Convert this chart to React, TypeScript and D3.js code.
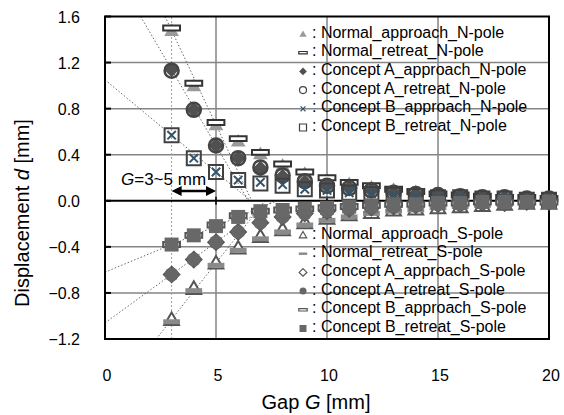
import { useEffect, useRef } from 'react'
import * as d3 from 'd3'

// gap G [mm]
const gap = [3, 4, 5, 6, 7, 8, 9, 10, 11, 12, 13, 14, 15, 16, 17, 18, 19, 20]

// N-pole (positive displacement)
const normalApproachN = [1.48, 1.0, 0.66, 0.52, 0.41, 0.31, 0.24, 0.19, 0.15, 0.12, 0.1, 0.08, 0.06, 0.05, 0.04, 0.03, 0.03, 0.02]
const normalRetreatN = [1.5, 1.02, 0.68, 0.54, 0.42, 0.32, 0.25, 0.2, 0.16, 0.13, 0.1, 0.08, 0.06, 0.05, 0.04, 0.03, 0.03, 0.02]
const conceptAApproachN = [1.14, 0.79, 0.48, 0.37, 0.28, 0.21, 0.16, 0.13, 0.11, 0.09, 0.07, 0.06, 0.05, 0.04, 0.03, 0.03, 0.02, 0.02]
const conceptARetreatN = [1.13, 0.79, 0.48, 0.37, 0.29, 0.22, 0.17, 0.13, 0.11, 0.09, 0.07, 0.06, 0.05, 0.04, 0.03, 0.03, 0.02, 0.02]
const conceptBApproachN = [0.57, 0.37, 0.25, 0.18, 0.16, 0.14, 0.1, 0.09, 0.07, 0.06, 0.05, 0.04, 0.03, 0.03, 0.02, 0.02, 0.01, 0.01]
const conceptBRetreatN = [0.57, 0.37, 0.25, 0.18, 0.15, 0.13, 0.1, 0.09, 0.07, 0.06, 0.05, 0.04, 0.03, 0.03, 0.02, 0.02, 0.01, 0.01]

// S-pole (negative displacement)
const normalApproachS = [-1.03, -0.76, -0.54, -0.41, -0.31, -0.25, -0.19, -0.15, -0.12, -0.1, -0.08, -0.07, -0.06, -0.05, -0.04, -0.03, -0.02, -0.02]
const normalRetreatS = [-1.05, -0.78, -0.56, -0.43, -0.33, -0.27, -0.21, -0.17, -0.14, -0.11, -0.09, -0.08, -0.06, -0.05, -0.04, -0.03, -0.02, -0.02]
const conceptAApproachS = [-0.64, -0.51, -0.36, -0.27, -0.19, -0.14, -0.11, -0.09, -0.07, -0.06, -0.05, -0.04, -0.03, -0.03, -0.02, -0.02, -0.01, -0.01]
const conceptARetreatS = [-0.64, -0.51, -0.36, -0.27, -0.19, -0.14, -0.11, -0.09, -0.07, -0.06, -0.05, -0.04, -0.03, -0.03, -0.02, -0.02, -0.01, -0.01]
const conceptBApproachS = [-0.38, -0.3, -0.21, -0.13, -0.09, -0.08, -0.07, -0.06, -0.05, -0.04, -0.03, -0.03, -0.02, -0.02, -0.01, -0.01, -0.01, -0.01]
const conceptBRetreatS = [-0.38, -0.3, -0.22, -0.14, -0.09, -0.08, -0.07, -0.06, -0.05, -0.04, -0.03, -0.03, -0.02, -0.02, -0.01, -0.01, -0.01, -0.01]

const xTicks = [0, 5, 10, 15, 20]
const yTicks = [-1.2, -0.8, -0.4, 0, 0.4, 0.8, 1.2, 1.6]

const seriesN = [
  { name: 'Normal_approach_N-pole', values: normalApproachN, kind: 'tri', fill: '#9a9a9a', stroke: 'none' },
  { name: 'Normal_retreat_N-pole', values: normalRetreatN, kind: 'bar', fill: '#fff', stroke: '#333' },
  { name: 'Concept A_approach_N-pole', values: conceptAApproachN, kind: 'diamond', fill: '#505050', stroke: 'none' },
  { name: 'Concept A_retreat_N-pole', values: conceptARetreatN, kind: 'circle', fill: 'none', stroke: '#444' },
  { name: 'Concept B_approach_N-pole', values: conceptBApproachN, kind: 'x', fill: 'none', stroke: '#34546a' },
  { name: 'Concept B_retreat_N-pole', values: conceptBRetreatN, kind: 'square', fill: 'none', stroke: '#404040' },
]
const seriesS = [
  { name: 'Normal_approach_S-pole', values: normalApproachS, kind: 'tri', fill: '#fff', stroke: '#555' },
  { name: 'Normal_retreat_S-pole', values: normalRetreatS, kind: 'bar', fill: '#8a8a8a', stroke: 'none' },
  { name: 'Concept A_approach_S-pole', values: conceptAApproachS, kind: 'diamond', fill: 'none', stroke: '#555' },
  { name: 'Concept A_retreat_S-pole', values: conceptARetreatS, kind: 'circle', fill: '#666', stroke: 'none' },
  { name: 'Concept B_approach_S-pole', values: conceptBApproachS, kind: 'bar', fill: '#fff', stroke: '#555' },
  { name: 'Concept B_retreat_S-pole', values: conceptBRetreatS, kind: 'square', fill: '#686868', stroke: 'none' },
]

// series used for the dotted tangent lines (through G=3 and G=5)
const trendSeries = [normalApproachN, conceptAApproachN, conceptBRetreatN, normalApproachS, conceptAApproachS, conceptBRetreatS]

function markerPath(kind, s) {
  const h = s / 2
  switch (kind) {
    case 'tri':
      return `M0,${-h}L${h * 1.05},${h * 0.8}L${-h * 1.05},${h * 0.8}Z`
    case 'diamond':
      return `M0,${-h * 1.1}L${h * 1.1},0L0,${h * 1.1}L${-h * 1.1},0Z`
    case 'circle':
      return `M${h},0A${h},${h} 0 1,1 ${-h},0A${h},${h} 0 1,1 ${h},0Z`
    case 'square':
      return `M${-h},${-h}H${h}V${h}H${-h}Z`
    case 'bar':
      return `M${-h * 1.2},${-h * 0.35}H${h * 1.2}V${h * 0.35}H${-h * 1.2}Z`
    case 'x':
      return `M${-h * 0.7},${-h * 0.7}L${h * 0.7},${h * 0.7}M${h * 0.7},${-h * 0.7}L${-h * 0.7},${h * 0.7}`
    default:
      return ''
  }
}

const FONT = 'Arial, "Liberation Sans", sans-serif'

export default function App() {
  const ref = useRef(null)

  useEffect(() => {
    const svg = d3.select(ref.current)
    svg.selectAll('*').remove()

    const x = d3.scaleLinear().domain([0, 20]).range([105, 549])
    const y = d3.scaleLinear().domain([-1.2, 1.6]).range([339, 16.5])

    // grid
    const grid = svg.append('g')
    grid
      .selectAll('line.h')
      .data(yTicks.filter((v) => v !== 0 && v !== -1.2 && v !== 1.6))
      .enter()
      .append('line')
      .attr('x1', x(0))
      .attr('x2', x(20))
      .attr('y1', (d) => y(d))
      .attr('y2', (d) => y(d))
      .attr('stroke', '#858585')
      .attr('stroke-width', 1.5)
    grid
      .selectAll('line.v')
      .data(xTicks.filter((v) => v > 0 && v < 20))
      .enter()
      .append('line')
      .attr('x1', (d) => x(d))
      .attr('x2', (d) => x(d))
      .attr('y1', y(1.6))
      .attr('y2', y(-1.2))
      .attr('stroke', '#858585')
      .attr('stroke-width', 1.5)

    // dotted G=3~5 region
    grid
      .append('path')
      .attr('d', `M${x(3)},${y(-1.2)}V${y(1.6)}H${x(5)}M${x(3)},${y(-1.2)}H${x(5)}`)
      .attr('fill', 'none')
      .attr('stroke', '#a0a0a0')
      .attr('stroke-width', 1)
      .attr('stroke-dasharray', '2,2')

    // tangent lines
    trendSeries.forEach((v) => {
      const m = (v[2] - v[0]) / (gap[2] - gap[0])
      const b = v[0] - m * gap[0]
      const edge = m < 0 ? 1.6 : -1.2
      const x0 = Math.max(0, (edge - b) / m)
      const x1 = -b / m
      svg
        .append('line')
        .attr('x1', x(x0))
        .attr('y1', y(m * x0 + b))
        .attr('x2', x(x1))
        .attr('y2', y(0))
        .attr('stroke', '#6a6a6a')
        .attr('stroke-width', 1)
        .attr('stroke-dasharray', '1.5,2')
    })

    // zero line
    svg
      .append('line')
      .attr('x1', x(0))
      .attr('x2', x(20))
      .attr('y1', y(0))
      .attr('y2', y(0))
      .attr('stroke', '#000')
      .attr('stroke-width', 2)
    svg
      .selectAll('line.zt')
      .data(xTicks.filter((v) => v > 0 && v < 20))
      .enter()
      .append('line')
      .attr('x1', (d) => x(d))
      .attr('x2', (d) => x(d))
      .attr('y1', y(0) - 4)
      .attr('y2', y(0) + 4)
      .attr('stroke', '#000')
      .attr('stroke-width', 1.5)

    // frame + inner ticks
    svg
      .append('rect')
      .attr('x', x(0))
      .attr('y', y(1.6))
      .attr('width', x(20) - x(0))
      .attr('height', y(-1.2) - y(1.6))
      .attr('fill', 'none')
      .attr('stroke', '#000')
      .attr('stroke-width', 2)
    svg
      .selectAll('line.yt')
      .data(yTicks)
      .enter()
      .append('line')
      .attr('x1', x(0))
      .attr('x2', x(0) + 6)
      .attr('y1', (d) => y(d))
      .attr('y2', (d) => y(d))
      .attr('stroke', '#000')
      .attr('stroke-width', 2)

    // markers
    const all = [...seriesN, ...seriesS]
    all.forEach((s) => {
      const size = s.kind === 'x' ? 12 : 14
      svg
        .append('g')
        .selectAll('path')
        .data(s.values)
        .enter()
        .append('path')
        .attr('transform', (d, i) => `translate(${x(gap[i])},${y(d)})`)
        .attr('d', markerPath(s.kind, size))
        .attr('fill', s.fill)
        .attr('stroke', s.stroke)
        .attr('stroke-width', s.kind === 'circle' ? 2.5 : 2)
    })

    // legends
    const legend = (list, top) => {
      const g = svg.append('g')
      list.forEach((s, i) => {
        const cy = top + i * 18.7
        g.append('path')
          .attr('transform', `translate(303,${cy + 2})`)
          .attr('d', markerPath(s.kind, 7))
          .attr('fill', s.fill)
          .attr('stroke', s.stroke)
          .attr('stroke-width', 1.2)
        g.append('text')
          .attr('x', 312)
          .attr('y', cy + 5.5)
          .attr('font-family', FONT)
          .attr('font-size', 16)
          .attr('fill', '#000')
          .text(': ' + s.name)
      })
    }
    legend(seriesN, 32)
    legend(seriesS, 233)

    // annotation
    svg
      .append('text')
      .attr('x', 121)
      .attr('y', 185)
      .attr('font-family', FONT)
      .attr('font-size', 17)
      .call((t) => {
        t.append('tspan').attr('font-style', 'italic').text('G')
        t.append('tspan').text('=3~5 mm')
      })
    const ay = 191
    svg
      .append('line')
      .attr('x1', x(3) + 6)
      .attr('x2', x(5) - 6)
      .attr('y1', ay)
      .attr('y2', ay)
      .attr('stroke', '#000')
      .attr('stroke-width', 2.5)
    ;[
      [x(3), 1],
      [x(5), -1],
    ].forEach(([px, dir]) => {
      svg
        .append('path')
        .attr('d', `M${px},${ay}L${px + dir * 10},${ay - 5}L${px + dir * 10},${ay + 5}Z`)
        .attr('fill', '#000')
    })

    // tick labels
    svg
      .selectAll('text.yl')
      .data(yTicks)
      .enter()
      .append('text')
      .attr('x', 80)
      .attr('y', (d) => y(d) + 6)
      .attr('text-anchor', 'end')
      .attr('font-family', FONT)
      .attr('font-size', 16)
      .text((d) => d3.format('.1f')(d))
    svg
      .selectAll('text.xl')
      .data(xTicks)
      .enter()
      .append('text')
      .attr('x', (d) => x(d) + 2)
      .attr('y', 381)
      .attr('text-anchor', 'middle')
      .attr('font-family', FONT)
      .attr('font-size', 16)
      .text((d) => d)

    // axis titles
    svg
      .append('text')
      .attr('transform', 'translate(29,213) rotate(-90)')
      .attr('text-anchor', 'middle')
      .attr('font-family', FONT)
      .attr('font-size', 20)
      .call((t) => {
        t.append('tspan').text('Displacement ')
        t.append('tspan').attr('font-style', 'italic').text('d')
        t.append('tspan').text(' [mm]')
      })
    svg
      .append('text')
      .attr('x', 316)
      .attr('y', 409)
      .attr('text-anchor', 'middle')
      .attr('font-family', FONT)
      .attr('font-size', 20)
      .call((t) => {
        t.append('tspan').text('Gap ')
        t.append('tspan').attr('font-style', 'italic').text('G')
        t.append('tspan').text(' [mm]')
      })
  }, [])

  return (
    <svg
      ref={ref}
      width={564}
      height={415}
      style={{ position: 'absolute', left: 0, top: 0, background: '#fff' }}
    />
  )
}
